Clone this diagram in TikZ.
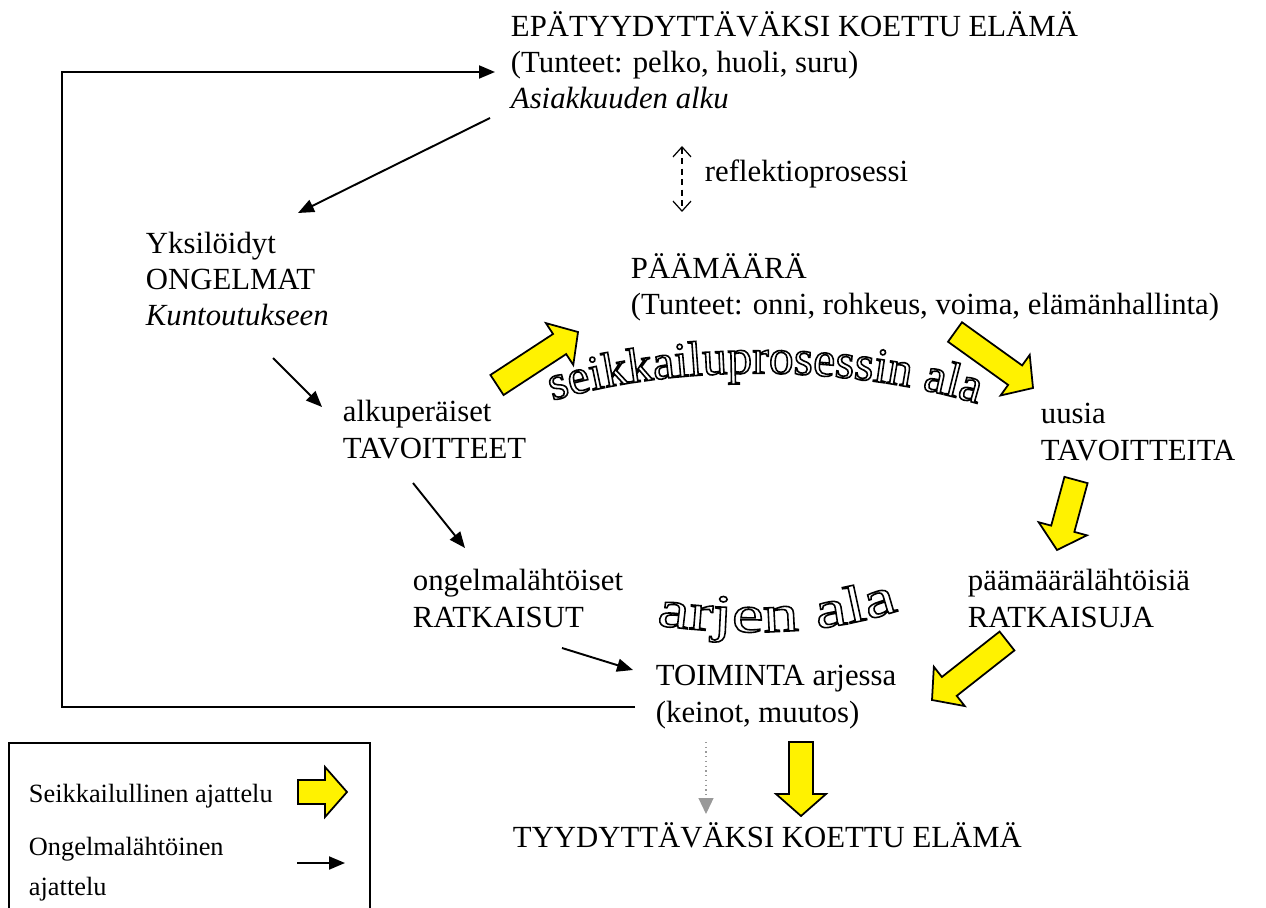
\documentclass[tikz,border=0pt]{standalone}
\usepackage{fontspec}
\setmainfont{Liberation Serif}
\newfontfamily\artfont{Liberation Serif}
\newfontfamily\wideartfont{Liberation Serif}[FakeStretch=1.36]
\usepackage{tikz}
\usetikzlibrary{arrows.meta, calc, decorations.text}

\tikzset{
    txt/.style={anchor=base west, inner sep=0pt, align=left, font=\fontsize{17.5}{20.5}\selectfont},
    legtxt/.style={anchor=base west, inner sep=0pt, align=left, font=\fontsize{15}{22.7}\selectfont},
    yellowarrow/.style={fill=yellow, draw=black, line width=1pt, line join=miter},
    dashedarrow/.style={<->, line width=0.7pt, dash pattern=on 3.5pt off 2.5pt, >={Straight Barb[length=0.2cm, width=0.36cm]}},
    graydot/.style={->, gray!80, line width=0.7pt, dotted, >={Triangle[length=0.32cm, width=0.3cm]}},
}

% block arrow from tail #1 to tip #2
\newcommand{\blockarrow}[2]{%
    \coordinate (ba-t) at (#1);
    \coordinate (ba-h) at (#2);
    \coordinate (ba-n) at ($(ba-h)!0.44cm!(ba-t)$);
    \filldraw[yellowarrow] ($(ba-t)!0.24cm!90:(ba-h)$) -- ($(ba-n)!0.24cm!90:(ba-h)$)
        -- ($(ba-n)!0.5cm!90:(ba-h)$) -- (ba-h) -- ($(ba-n)!0.5cm!-90:(ba-h)$)
        -- ($(ba-n)!0.24cm!-90:(ba-h)$) -- ($(ba-t)!0.24cm!-90:(ba-h)$) -- cycle;
}

% hollow (stroked) word art text: font #1, text #2, path #3
\newcommand{\wordart}[3]{%
    \begin{scope}
        \path[decorate, decoration={text along path, text align=center,
            text={|#1\special{pdf:literal direct 1 Tr 0.9 w}|#2}}] #3;
    \end{scope}
}

\begin{document}
\begin{tikzpicture}[x=0.02cm, y=-0.02cm, line width=1.1pt, >={Triangle[length=0.32cm, width=0.26cm]}]
    \fill[white] (0,0) rectangle (1266,908);
    \useasboundingbox (0,0) rectangle (1266,908);

    % Nodes (placed at the baseline of their last line)
    \node[txt] (epa) at (510,109) {EPÄTYYDYTTÄVÄKSI KOETTU ELÄMÄ\\(Tunteet: pelko, huoli, suru)\\\textit{Asiakkuuden alku}};
    \node[txt] (refl) at (704,182) {reflektioprosessi};
    \node[txt] (paamaara) at (630,315) {PÄÄMÄÄRÄ\\(Tunteet: onni, rohkeus, voima, elämänhallinta)};
    \node[txt] (yksil) at (145,326) {Yksilöidyt\\ONGELMAT\\\textit{Kuntoutukseen}};
    \node[txt] (alku) at (342,458) {alkuperäiset\\TAVOITTEET};
    \node[txt] (uusia) at (1040,460) {uusia\\TAVOITTEITA};
    \node[txt] (ongelma) at (412,627) {ongelmalähtöiset\\RATKAISUT};
    \node[txt] (pml) at (967,627) {päämäärälähtöisiä\\RATKAISUJA};
    \node[txt] (toiminta) at (655,722) {TOIMINTA arjessa\\(keinot, muutos)};
    \node[txt] (tyyd) at (512,847) {TYYDYTTÄVÄKSI KOETTU ELÄMÄ};

    % Word art
    \wordart{\artfont\fontsize{28}{32}\selectfont}{seikkailuprosessin ala}{(545,403) .. controls (670,363) and (850,363) .. (985,406)}
    \wordart{\wideartfont\fontsize{30}{34}\selectfont}{arjen ala}{(636,622) .. controls (720,636) and (830,640) .. (918,603)}

    % Problem based arrows
    \coordinate (loopx) at (62,0);
    \coordinate (loopa) at ($(toiminta.base west)+(-20,-15)$);
    \draw[->] (loopa) -- (loopa -| loopx) |- ($(epa.base west)+(-15,-37)$);
    \draw[->] ($(epa.base west)+(-20,9)$) -- ($(yksil.base west)+(153,-113)$);
    \draw[->] ($(yksil.base west)+(128,32)$) -- ($(alku.base west)+(-20,-51)$);
    \draw[->] ($(alku.base west)+(71,25)$) -- ($(ongelma.base west)+(53,-79)$);
    \draw[->] ($(ongelma.base west)+(150,21)$) -- ($(toiminta.base west)+(-22,-52)$);
    \draw[graydot] ($(toiminta.base west)+(51,20)$) -- ($(tyyd.base west)+(194,-33)$);
    \draw[dashedarrow] ($(epa.base west)+(172,37)$) -- ($(paamaara.base west)+(52,-103)$);

    % Adventure arrows
    \blockarrow{$(alku.base west)+(155,-73)$}{$(paamaara.base west)+(-52,17)$}
    \blockarrow{$(paamaara.base west)+(325,17)$}{$(uusia.base west)+(-7,-72)$}
    \blockarrow{$(uusia.base west)+(36,20)$}{$(pml.base west)+(90,-77)$}
    \blockarrow{$(pml.base west)+(40,14)$}{$(toiminta.base west)+(277,-22)$}
    \blockarrow{$(toiminta.base west)+(146,20)$}{$(tyyd.base west)+(289,-31)$}

    % Legend
    \draw[line width=1pt] (9,915) -- (9,743) -- (370,743) -- (370,915);
    \node[legtxt] (leg1) at (28,802) {Seikkailullinen ajattelu};
    \node[legtxt] (leg2) at (28,895) {Ongelmalähtöinen\\ajattelu};
    \blockarrow{$(leg1.base west)+(270,-10)$}{$(leg1.base west)+(319,-10)$}
    \draw[->] ($(leg2.base west)+(269,-32)$) -- ($(leg2.base west)+(317,-32)$);
\end{tikzpicture}
\end{document}
